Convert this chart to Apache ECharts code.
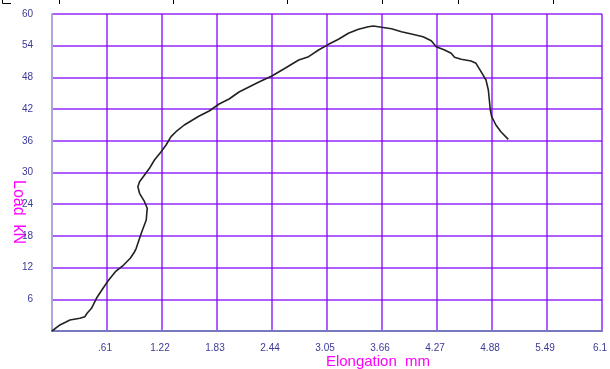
<!DOCTYPE html>
<html>
<head>
<meta charset="utf-8">
<script src="https://cdn.jsdelivr.net/npm/echarts@6/dist/echarts.min.js"></script>
<style>html,body{margin:0;padding:0;background:#fff;}#c{width:610px;height:369px;}</style>
</head>
<body>
<div id="c"></div>
<script>
// Elongation (mm)
var elongation = [0,0.088,0.199,0.309,0.364,0.389,0.438,0.493,0.566,0.629,0.703,0.794,0.868,0.916,0.934,0.990,1.045,1.056,1.026,0.971,0.952,0.971,1.026,1.081,1.136,1.210,1.265,1.320,1.375,1.467,1.559,1.633,1.743,1.853,1.964,2.074,2.184,2.295,2.438,2.570,2.736,2.846,2.956,3.067,3.177,3.287,3.398,3.508,3.563,3.655,3.765,3.875,3.986,4.115,4.206,4.261,4.354,4.427,4.464,4.537,4.647,4.702,4.758,4.813,4.839,4.850,4.861,4.876,4.923,4.978,5.060];
// Load (kN)
var load = [0,1.14,2.08,2.40,2.71,3.35,4.30,6.19,8.08,9.65,11.22,12.49,13.76,15.01,15.65,18.49,21.01,23.22,24.47,26.06,27.31,28.26,29.53,30.79,32.36,33.94,35.20,36.78,37.72,38.99,39.94,40.69,41.64,42.96,43.91,45.24,46.18,47.13,48.26,49.59,51.29,51.92,53.19,54.26,55.21,56.35,57.10,57.60,57.73,57.48,57.22,56.65,56.21,55.70,54.95,53.81,53.19,52.56,51.80,51.42,51.10,50.67,49.08,47.51,45.61,43.72,41.83,40.56,38.99,37.72,36.28];
var xTickLabels = ['', '.61', '1.22', '1.83', '2.44', '3.05', '3.66', '4.27', '4.88', '5.49', '6.1'];
var yTickLabels = ['', '6', '12', '18', '24', '30', '36', '42', '48', '54', '60'];
var xName = 'Elongation  mm';
var yName = 'Load  kN';

var pts = elongation.map(function (x, i) { return [x, load[i]]; });
var chart = echarts.init(document.getElementById('c'), null, {renderer: 'canvas'});
var gridColor = '#8000ff';
var labelStyle = {color: '#3a3a9a', fontSize: 10, fontFamily: 'Liberation Sans Narrow, Liberation Sans, sans-serif'};
var topTicks = [59, 173, 287, 382, 458, 553];
var graphics = [
  {type: 'text', silent: true, x: 18, y: 212, rotation: -Math.PI / 2, style: {text: yName, x: 0, y: 0, fill: '#ff00ff', font: '16px "Liberation Sans", Arial, sans-serif', align: 'center', verticalAlign: 'middle'}},
  {type: 'text', silent: true, style: {text: xName, x: 378, y: 362, fill: '#ff00ff', font: '15px "Liberation Sans", Arial, sans-serif', align: 'center', verticalAlign: 'middle'}},
  {type: 'polyline', silent: true, shape: {points: [[2.5, 0], [2.5, 3.5], [11, 3.5]]}, style: {stroke: '#000', lineWidth: 1, fill: null}}
];
topTicks.forEach(function (tx) {
  graphics.push({type: 'line', silent: true, shape: {x1: tx + 0.5, y1: 0, x2: tx + 0.5, y2: 4}, style: {stroke: '#000', lineWidth: 1}});
});

chart.setOption({
  animation: false,
  backgroundColor: '#ffffff',
  grid: {left: 52, right: 5, top: 14, bottom: 38, containLabel: false},
  xAxis: {
    type: 'value', min: 0, max: 6.1, interval: 0.61,
    axisLine: {show: true, onZero: false, lineStyle: {color: '#7878c0', width: 2}},
    axisTick: {show: false},
    splitLine: {show: true, lineStyle: {color: gridColor, width: 1.5, opacity: 0.85}},
    axisLabel: Object.assign({margin: 12, padding: [0, 4, 0, 0], showMinLabel: true, showMaxLabel: true,
      formatter: function (v) { var i = Math.round(v / 0.61); return xTickLabels[i] || ''; }}, labelStyle)
  },
  yAxis: {
    type: 'value', min: 0, max: 60, interval: 6,
    axisLine: {show: true, lineStyle: {color: '#a8a8dc', width: 2}},
    axisTick: {show: false},
    splitLine: {show: true, lineStyle: {color: gridColor, width: 1.5, opacity: 0.85}},
    axisLabel: Object.assign({margin: 19,
      formatter: function (v) { var i = Math.round(v / 6); return yTickLabels[i] || ''; }}, labelStyle)
  },
  series: [{
    type: 'line', data: pts, showSymbol: false, smooth: false,
    lineStyle: {color: '#222222', width: 1.6}
  }],
  graphic: graphics
});
</script>
</body>
</html>
